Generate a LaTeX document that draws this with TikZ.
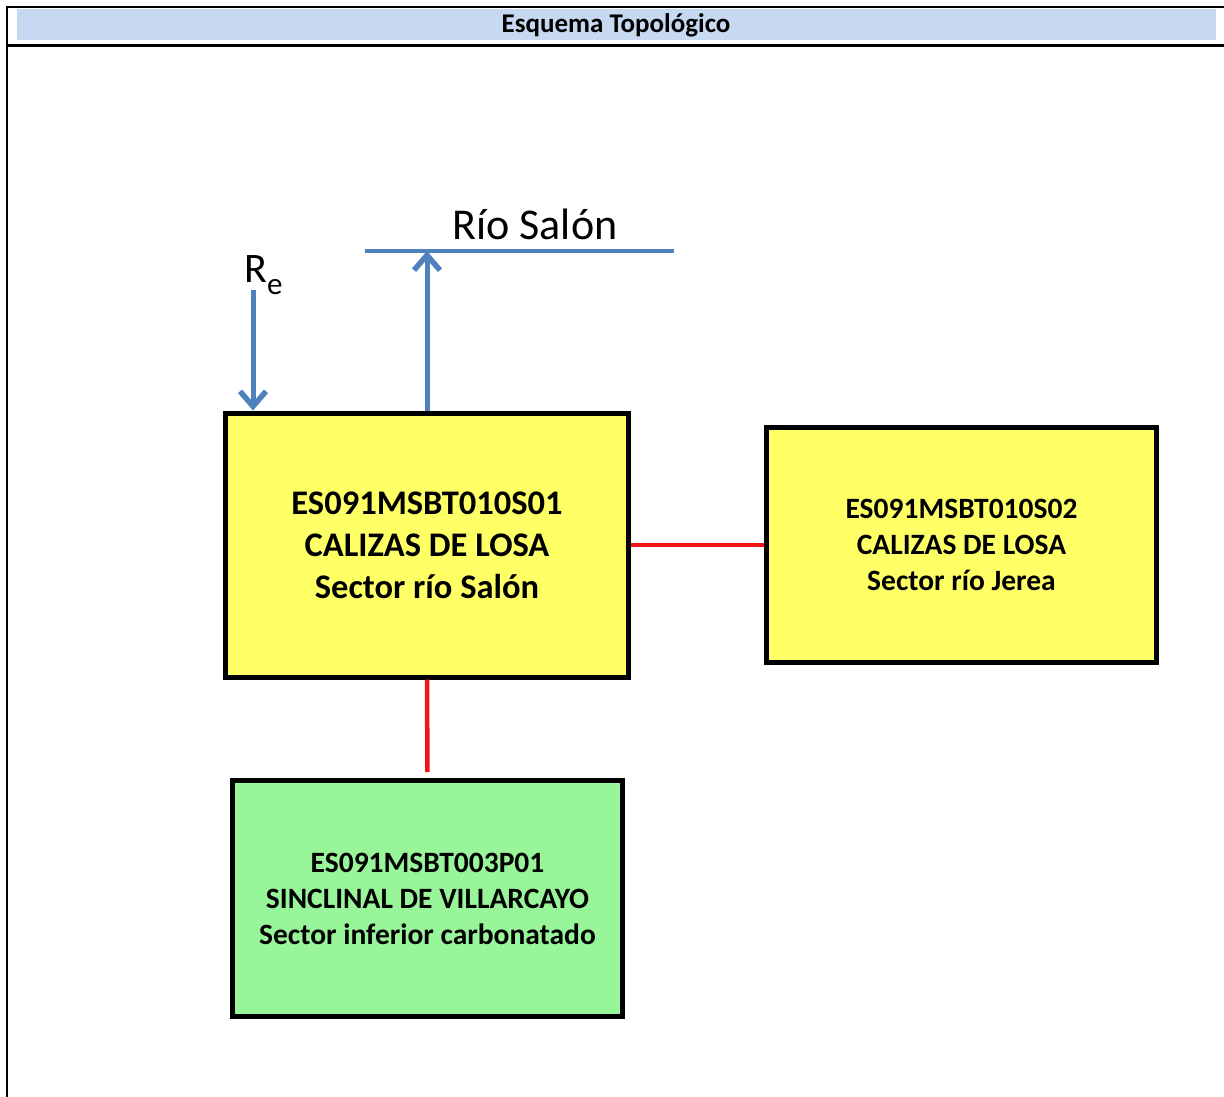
\documentclass[tikz,border=0pt]{standalone}
\usepackage{fontspec}
\setmainfont{Carlito}
\usetikzlibrary{arrows.meta}
\definecolor{headfill}{HTML}{C6D9F1}
\definecolor{yelfill}{HTML}{FFFF66}
\definecolor{grnfill}{HTML}{99F599}
\definecolor{flowblue}{HTML}{4F81BD}
\definecolor{linkred}{HTML}{F01414}
\tikzset{
  unit/.style={draw=black, line width=5, align=center, inner sep=0pt},
  bigtext/.style={font=\bfseries\fontsize{34.5}{42}\selectfont},
  smalltext/.style={font=\bfseries\fontsize{29.5}{36}\selectfont},
  flow/.style={draw=flowblue, line width=5,
    -{Straight Barb[length=15pt,width=26pt,line width=5.5pt]}},
  river/.style={draw=flowblue, line width=4},
  link/.style={draw=linkred, line width=4.5},
  frame/.style={draw=black, line width=2.5}
}
\begin{document}
\begin{tikzpicture}[x=1pt,y=-1pt]
\useasboundingbox (0,0) rectangle (1224,1097);
% table frame and title band
\fill[headfill] (17,9) rectangle (1216,40);
\node[font=\bfseries\fontsize{27}{30}\selectfont] (title) at (616,25) {Esquema Topológico};
\draw[frame] (7,1097) -- (7,7) -- (1224,7);
\draw[draw=black, line width=3] (7,45.5) -- (1224,45.5);

% groundwater bodies
\node[unit, bigtext, fill=yelfill, minimum width=403, minimum height=264] (s01) at (427,545)
  {ES091MSBT010S01\\CALIZAS DE LOSA\\Sector río Salón};
\node[unit, smalltext, fill=yelfill, minimum width=390, minimum height=235] (s02) at (961.5,545)
  {ES091MSBT010S02\\CALIZAS DE LOSA\\Sector río Jerea};
\node[unit, smalltext, fill=grnfill, minimum width=390, minimum height=236] (p01) at (427.5,898.5)
  {ES091MSBT003P01\\SINCLINAL DE VILLARCAYO\\Sector inferior carbonatado};

% river and recharge
\coordinate (rivL) at (365,251);
\coordinate (rivR) at (674,251);
\coordinate (outlet) at (427,251);
\draw[river] (rivL) -- (rivR);
\node[font=\fontsize{44}{52}\selectfont, anchor=base] (rio) at (535,239) {Río Salón};
\draw[flow] (s01.north) -- (outlet);

\node[font=\fontsize{42}{46}\selectfont, anchor=base west, inner sep=0pt] (re) at (244,282)
  {R{\fontsize{31}{31}\selectfont\raisebox{-12pt}{e}}};
\coordinate (reTop) at (253,290);
\coordinate (reBot) at (253,410.5);
\draw[flow] (reTop) -- (reBot);

% connections between bodies
\draw[link] (s01.east) -- (s02.west);
\draw[link, shorten >=6] (s01.south) -- (p01.north);
\end{tikzpicture}
\end{document}
